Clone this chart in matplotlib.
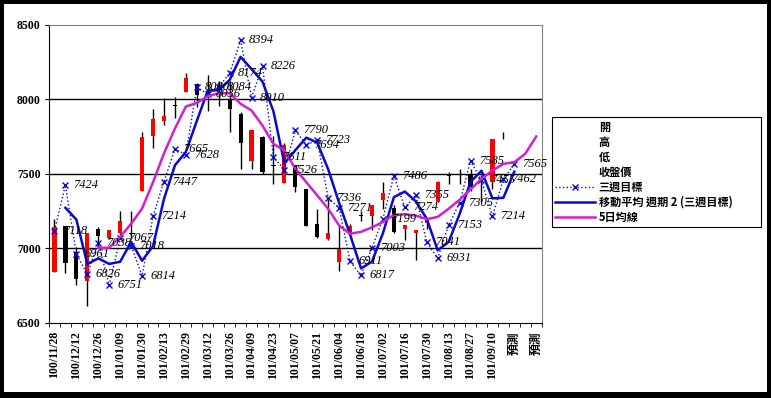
import numpy as np
import pandas as pd
import matplotlib
matplotlib.use('Agg')
import matplotlib.pyplot as plt
from matplotlib.lines import Line2D
from matplotlib.patches import Rectangle

# weekly categories (labels shown every other week)
weeks = ['100/11/28', '100/12/05', '100/12/12', '100/12/19', '100/12/26', '101/01/02',
         '101/01/09', '101/01/16', '101/01/30', '101/02/06', '101/02/13', '101/02/20',
         '101/02/29', '101/03/05', '101/03/12', '101/03/19', '101/03/26', '101/04/02',
         '101/04/09', '101/04/16', '101/04/23', '101/04/30', '101/05/07', '101/05/14',
         '101/05/21', '101/05/28', '101/06/04', '101/06/11', '101/06/18', '101/06/25',
         '101/07/02', '101/07/09', '101/07/16', '101/07/23', '101/07/30', '101/08/06',
         '101/08/13', '101/08/20', '101/08/27', '101/09/03', '101/09/10', '101/09/17',
         '預測', '預測', '預測']

# candles
open_ = [6839, 7152, 6973, 6783, 7130, 7070, 7101, 7100, 7383, 7750, 7852, 7960, 8047, 8103,
         8052, 8065, 8003, 7902, 7588, 7745, 7560, 7439, 7555, 7399, 7164, 7063, 6906, 7097,
         7222, 7219, 7325, 7270, 7130, 7101, 7170, 7309, 7488, 7491, 7499, 7461, 7443, 7766]
high = [7197, 7152, 7007, 7101, 7140, 7125, 7253, 7253, 7778, 7935, 8009, 8018, 8174, 8110,
        8163, 8125, 8125, 7913, 7790, 7750, 7755, 7705, 7555, 7399, 7264, 7332, 7152, 7160,
        7253, 7287, 7443, 7290, 7159, 7119, 7186, 7450, 7510, 7533, 7533, 7488, 7734, 7778]
low = [6839, 6832, 6756, 6615, 7018, 7065, 7074, 7070, 7383, 7671, 7830, 7875, 8047, 7950,
       7924, 7957, 7778, 7533, 7533, 7500, 7432, 7439, 7376, 7152, 7070, 7052, 6850, 7090,
       7185, 7119, 7264, 7100, 7052, 6922, 7130, 7309, 7432, 7432, 7386, 7309, 7400, 7734]
close = [7141, 6899, 6790, 7101, 7080, 7123, 7181, 7095, 7745, 7864, 7890, 7956, 8144, 8025,
         8048, 8060, 7935, 7705, 7790, 7510, 7555, 7694, 7409, 7152, 7074, 7103, 6996, 7152,
         7218, 7287, 7369, 7107, 7159, 7119, 7186, 7443, 7486, 7489, 7409, 7459, 7734, 7764]

# 三週目標
target = [7118, 7424, 6961, 6826, 7038, 6751, 7067, 7018, 6814, 7214, 7447, 7665, 7628, 8080,
          8036, 8084, 8174, 8394, 8010, 8226, 7611, 7526, 7790, 7694, 7723, 7336, 7271, 6911,
          6817, 7003, 7199, 7486, 7274, 7355, 7041, 6931, 7153, 7305, 7585, 7455, 7214, 7462,
          7565]

# 5日均線 (starts at week index 4)
ma5_start = 4
ma5 = [7003, 7003, 7076, 7164, 7266, 7443, 7636, 7803, 7951, 7975, 8020, 8040, 8040, 7969,
       7924, 7823, 7700, 7656, 7533, 7443, 7354, 7264, 7152, 7097, 7110, 7140, 7176, 7224,
       7228, 7219, 7195, 7210, 7265, 7325, 7395, 7466, 7521, 7566, 7577, 7634, 7750]

blue = '#0A0ACC'
magenta = '#D11FD1'
serif = 'Liberation Serif'
cjk = ['Noto Sans CJK TC', 'DejaVu Sans']

W, H = 771, 398
fig = plt.figure(figsize=(W / 100, H / 100), dpi=100, facecolor='black')
fig.patches.append(Rectangle((4 / W, 6 / H), 763 / W, 388 / H, transform=fig.transFigure,
                             facecolor='white', edgecolor='none', zorder=-10))

ax = fig.add_axes([49 / W, (H - 322.7) / H, 492.7 / W, 298 / H])
ax.set_facecolor('white')

x = np.arange(len(open_))
o = np.array(open_)
c = np.array(close)
up = c >= o
body_lo = np.minimum(o, c)
body_h = np.maximum(np.abs(c - o), 4)

ax.vlines(x, low, high, color='black', lw=1, zorder=2)
ax.bar(x[up], body_h[up], bottom=body_lo[up], width=0.38, color='#FF0000', zorder=3)
ax.bar(x[~up], body_h[~up], bottom=body_lo[~up], width=0.38, color='black', zorder=3)

xt = np.arange(len(target))
ax.plot(xt, target, ls=':', color=blue, lw=1, marker='x', ms=4, mew=1, zorder=4)
for i, v in enumerate(target):
    ax.annotate(str(v), (i, v), xytext=(6, 0), textcoords='offset points',
                va='center', ha='left', fontsize=9, family=serif, style='italic', zorder=6)

ma2 = pd.Series(target).rolling(2).mean()
ax.plot(xt, ma2, color=blue, lw=1.8, zorder=5)

ax.plot(np.arange(ma5_start, ma5_start + len(ma5)), ma5, color=magenta, lw=1.8, zorder=5)

ax.set_ylim(6500, 8500)
ax.set_xlim(-0.5, len(weeks) - 0.5)
ax.set_yticks([6500, 7000, 7500, 8000, 8500])
for yv in [7000, 7500, 8000]:
    ax.axhline(yv, color='black', lw=1, zorder=1)

ax.set_xticks(np.arange(0, len(weeks), 2))
ax.set_xticklabels(weeks[::2], rotation=90, va='top', ha='center')
ax.set_xticks(np.arange(-0.5, len(weeks), 1), minor=True)
ax.tick_params(axis='x', which='major', length=0, pad=6)
ax.tick_params(axis='x', which='minor', length=3, direction='out')
ax.tick_params(axis='y', length=3, direction='out', pad=3)
for lab in ax.get_xticklabels():
    lab.set_family(cjk if lab.get_text() == '預測' else serif)
    lab.set_fontsize(8.5)
    lab.set_weight('bold')
for lab in ax.get_yticklabels():
    lab.set_family(serif)
    lab.set_fontsize(8.5)
    lab.set_weight('bold')

for s in ['top', 'right']:
    ax.spines[s].set_color('#808080')
for s in ['left', 'bottom']:
    ax.spines[s].set_color('black')

empty = Line2D([], [], linestyle='none')
handles = [empty, empty, empty, empty,
           Line2D([], [], ls=':', color=blue, lw=1, marker='x', ms=4),
           Line2D([], [], color=blue, lw=1.8),
           Line2D([], [], color=magenta, lw=1.8)]
labels = ['開', '高', '低', '收盤價', '三週目標', '移動平均 週期 2 (三週目標)', '5日均線']
leg = fig.legend(handles, labels, loc='upper left',
                 bbox_to_anchor=(552 / W, 1 - 117.3 / H, 209 / W, 0.0), mode='expand',
                 prop={'family': cjk, 'size': 8, 'weight': 'bold'}, frameon=True,
                 fancybox=False, edgecolor='black', framealpha=1, borderpad=0.3,
                 labelspacing=0.18, handlelength=3.6, handletextpad=0.3, borderaxespad=0,
                 numpoints=1)
leg.get_frame().set_linewidth(0.8)

fig.savefig('out.png', dpi=100, facecolor='black')
